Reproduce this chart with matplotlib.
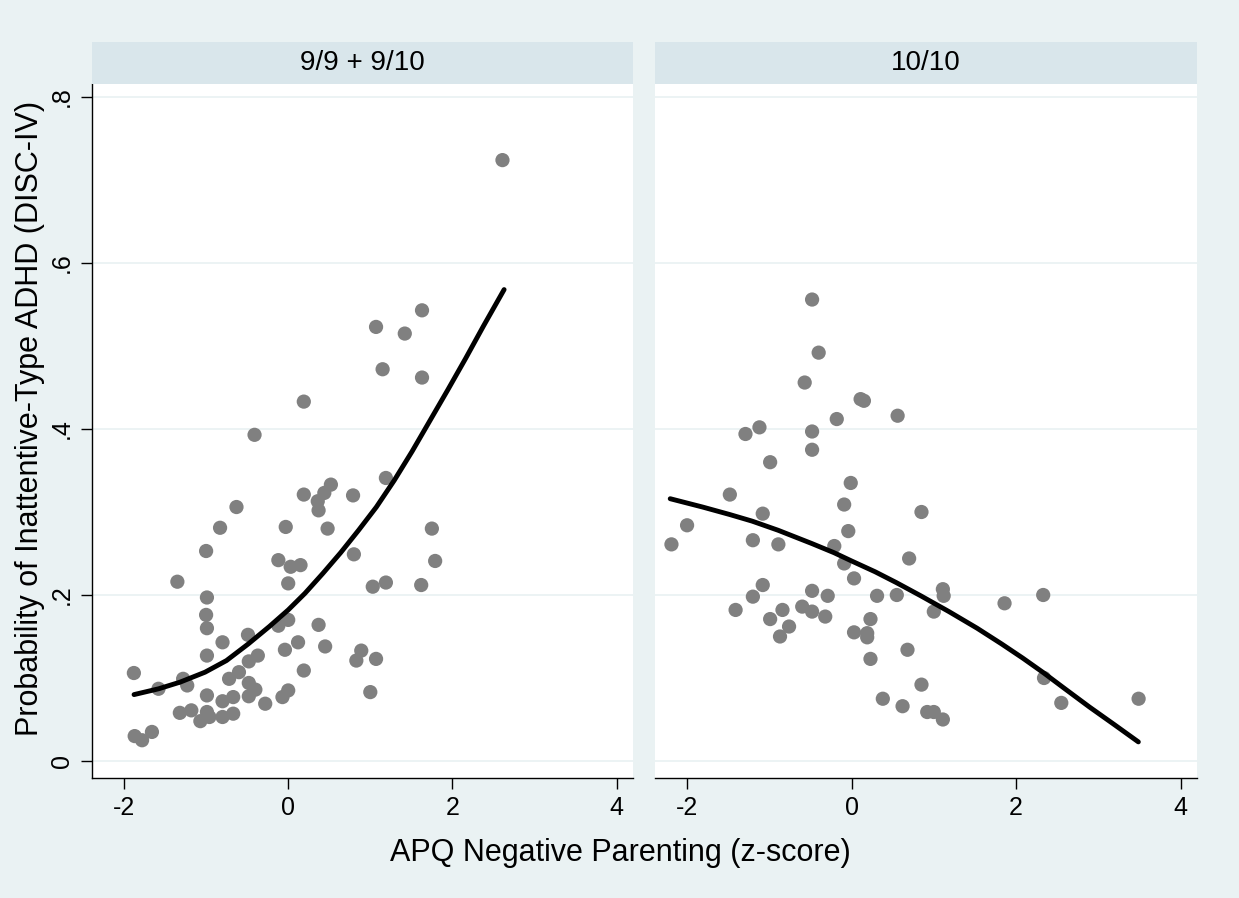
import matplotlib
matplotlib.use("Agg")
import matplotlib.pyplot as plt

plt.rcParams["font.family"] = ["Liberation Sans", "DejaVu Sans"]

BG = "#EAF2F3"
STRIP = "#D9E6EB"
DOT = "#808080"

panel_titles = ["9/9 + 9/10", "10/10"]
x_ticks = [-2, 0, 2, 4]
y_ticks = [0, 0.2, 0.4, 0.6, 0.8]
y_ticklabels = ["0", ".2", ".4", ".6", ".8"]

# panel 1: 9/9 + 9/10
left_x = [1.63, 1.07, 1.42, 1.15, 1.63, 0.19, -0.41, 1.19, 0.52, 0.44,
          0.19, 0.79, 0.36, 0.37, -0.63, -0.83, -0.03, 0.48, 1.75, -1.00,
          0.80, -0.12, 0.03, 0.15, 1.79, -1.35, 0.00, 1.03, 1.19, 1.62,
          -0.99, -1.00, -0.99, 0.00, -0.12, 0.37, -0.49, -0.80, 0.12, -0.04,
          0.45, -0.99, -0.37, -0.48, 0.89, 0.83, 1.07, 0.19, -1.88, -0.60,
          -0.72, -1.28, -1.23, -1.58, -0.48, -0.40, 1.00, 0.00, -0.07, -0.99,
          -0.67, -0.48, -0.80, -0.28, -1.32, -1.18, -0.99, -1.07, -0.96, -0.80,
          -0.67, -1.87, -1.78, -1.66, 2.61]
left_y = [0.543, 0.523, 0.515, 0.472, 0.462, 0.433, 0.393, 0.341, 0.333, 0.323,
          0.321, 0.320, 0.313, 0.302, 0.306, 0.281, 0.282, 0.280, 0.280, 0.253,
          0.249, 0.242, 0.234, 0.236, 0.241, 0.216, 0.214, 0.210, 0.215, 0.212,
          0.197, 0.176, 0.160, 0.170, 0.163, 0.164, 0.152, 0.143, 0.143, 0.134,
          0.138, 0.127, 0.127, 0.120, 0.133, 0.121, 0.123, 0.109, 0.106, 0.107,
          0.099, 0.099, 0.091, 0.087, 0.094, 0.086, 0.083, 0.085, 0.077, 0.079,
          0.077, 0.078, 0.072, 0.069, 0.058, 0.061, 0.059, 0.048, 0.053, 0.053,
          0.057, 0.030, 0.025, 0.035, 0.724]
left_fit_x = [-1.878, -1.578, -1.317, -1.013, -0.752, -0.487, -0.230, 0.000,
              0.204, 0.422, 0.639, 0.857, 1.074, 1.291, 1.509, 1.726, 1.943,
              2.161, 2.378, 2.630]
left_fit_y = [0.080, 0.087, 0.095, 0.107, 0.121, 0.141, 0.162, 0.182,
              0.202, 0.226, 0.251, 0.278, 0.306, 0.338, 0.373, 0.410, 0.447,
              0.485, 0.524, 0.568]

# panel 2: 10/10
right_x = [-0.48, -0.40, -0.57, 0.11, 0.15, 0.56, -0.18, -1.12, -1.29, -0.48,
           -0.48, -0.99, -0.01, -1.48, -0.09, -1.08, 0.85, -2.00, -0.04, -2.19,
           -1.20, -0.89, -0.21, 0.70, -0.09, 0.03, -1.08, -0.48, 1.11, -1.20,
           -0.29, 0.31, 0.55, 1.12, 2.33, 1.86, -1.41, -0.84, -0.60, -0.48,
           -0.32, 1.00, -0.99, 0.23, -0.76, -0.87, 0.03, 0.19, 0.19, 0.68,
           0.23, 0.85, 2.34, 0.38, 0.62, 2.55, 3.49, 0.92, 1.00, 1.11]
right_y = [0.556, 0.492, 0.456, 0.436, 0.434, 0.416, 0.412, 0.402, 0.394, 0.397,
           0.375, 0.360, 0.335, 0.321, 0.309, 0.298, 0.300, 0.284, 0.277, 0.261,
           0.266, 0.261, 0.259, 0.244, 0.238, 0.220, 0.212, 0.205, 0.207, 0.198,
           0.199, 0.199, 0.200, 0.199, 0.200, 0.190, 0.182, 0.182, 0.186, 0.180,
           0.174, 0.180, 0.171, 0.171, 0.162, 0.150, 0.155, 0.154, 0.149, 0.134,
           0.123, 0.092, 0.100, 0.075, 0.066, 0.070, 0.075, 0.059, 0.059, 0.050]
right_fit_x = [-2.205, -1.812, -1.483, -1.209, -0.893, -0.483, -0.214, 0.000,
               0.286, 0.543, 0.842, 1.184, 1.526, 1.825, 2.081, 2.338, 2.594,
               2.893, 3.192, 3.487]
right_fit_y = [0.316, 0.306, 0.297, 0.289, 0.278, 0.262, 0.251, 0.241,
               0.228, 0.215, 0.199, 0.180, 0.160, 0.141, 0.124, 0.106, 0.087,
               0.065, 0.044, 0.023]

fig = plt.figure(figsize=(12.39, 8.98), dpi=100, facecolor=BG)

AX_BOTTOM, AX_TOP, STRIP_TOP = 1 - 778 / 898, 1 - 84 / 898, 1 - 42 / 898
panels = [
    (92 / 1239, 633 / 1239, left_x, left_y, left_fit_x, left_fit_y),
    (655 / 1239, 1197 / 1239, right_x, right_y, right_fit_x, right_fit_y),
]

for i, (x0, x1, px, py, fx, fy) in enumerate(panels):
    ax = fig.add_axes([x0, AX_BOTTOM, x1 - x0, AX_TOP - AX_BOTTOM])
    ax.set_facecolor("white")
    ax.set_xlim(-2.39, 4.2)
    ax.set_ylim(-0.0205, 0.8157)
    for yv in y_ticks:
        ax.axhline(yv, color=BG, lw=1.3, zorder=0)
    ax.scatter(px, py, s=105, color=DOT, edgecolors="none", zorder=2)
    ax.plot(fx, fy, color="black", lw=3.5, solid_capstyle="round",
            solid_joinstyle="round", zorder=3)

    for side in ("top", "right"):
        ax.spines[side].set_visible(False)
    ax.spines["bottom"].set_linewidth(1.0)
    ax.set_xticks(x_ticks)
    ax.set_xticklabels([str(t) for t in x_ticks])
    ax.tick_params(axis="x", direction="out", length=8, width=1.0,
                   labelsize=18, pad=5)
    if i == 0:
        ax.spines["left"].set_linewidth(1.0)
        ax.set_yticks(y_ticks)
        ax.set_yticklabels(y_ticklabels, rotation=90, va="center")
        ax.tick_params(axis="y", direction="out", length=8, width=1.0,
                       labelsize=18, pad=5)
    else:
        ax.spines["left"].set_visible(False)
        ax.set_yticks([])

    sax = fig.add_axes([x0, AX_TOP, x1 - x0, STRIP_TOP - AX_TOP])
    sax.set_facecolor(STRIP)
    for s in sax.spines.values():
        s.set_visible(False)
    sax.set_xticks([])
    sax.set_yticks([])
    sax.text(0.5, 0.5, panel_titles[i], ha="center", va="center",
             fontsize=20, transform=sax.transAxes)

fig.text(620 / 1239, 1 - 853 / 898, "APQ Negative Parenting (z-score)",
         ha="center", va="center", fontsize=22)
fig.text(30 / 1239, 1 - 418 / 898, "Probability of Inattentive-Type ADHD (DISC-IV)",
         ha="center", va="center", rotation=90, fontsize=22)

fig.savefig("out.png", dpi=100, facecolor=BG)
